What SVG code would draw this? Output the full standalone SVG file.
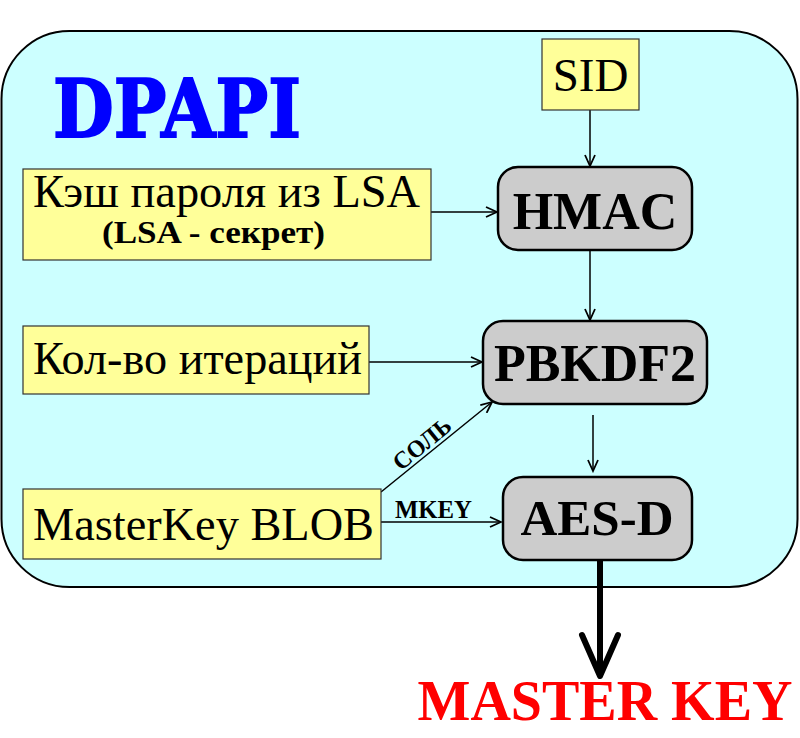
<svg xmlns="http://www.w3.org/2000/svg" width="800" height="738" viewBox="0 0 800 738">
<style>
.inp{fill:#FFFF99;stroke:#333;stroke-width:1.2}
.proc{fill:#CCCCCC;stroke:#000;stroke-width:2.5}
.t{font-family:"Liberation Serif","Times New Roman",serif;fill:#000}
.b{font-weight:bold}
.ln{stroke:#000;stroke-width:1.5;fill:none}
</style>
<defs>
<marker id="ah" markerWidth="14" markerHeight="12" refX="12" refY="6" orient="auto" markerUnits="userSpaceOnUse">
<path d="M1,1 L12,6 L1,11" fill="none" stroke="#000" stroke-width="1.8"/>
</marker>
</defs>
<rect x="1.5" y="31" width="796" height="556" rx="68" ry="68" fill="#CCFFFF" stroke="#000" stroke-width="2"/>
<text x="53" y="137" font-family="'DejaVu Serif','Liberation Serif',serif" font-weight="bold" font-size="80" fill="#0000FF" stroke="#0000FF" stroke-width="2" textLength="248" lengthAdjust="spacingAndGlyphs">DPAPI</text>

<g id="connectors">
<line class="ln" x1="590" y1="110" x2="590" y2="166" marker-end="url(#ah)"/>
<line class="ln" x1="431" y1="212" x2="497" y2="212" marker-end="url(#ah)"/>
<line class="ln" x1="590" y1="250" x2="590" y2="320" marker-end="url(#ah)"/>
<line class="ln" x1="369" y1="362" x2="482" y2="362" marker-end="url(#ah)"/>
<line class="ln" x1="593" y1="415" x2="593" y2="471" marker-end="url(#ah)"/>
<line class="ln" x1="381" y1="492" x2="492" y2="402" marker-end="url(#ah)"/>
<line class="ln" x1="381" y1="522" x2="501" y2="522" marker-end="url(#ah)"/>
<text class="t b" font-size="24" text-anchor="middle" textLength="68" lengthAdjust="spacingAndGlyphs" transform="translate(427,450) rotate(-39.3)">СОЛЬ</text>
<text class="t b" x="433.5" y="518" font-size="25" text-anchor="middle" textLength="77" lengthAdjust="spacingAndGlyphs">MKEY</text>
<path d="M600,560 L600,675" stroke="#000" stroke-width="6" fill="none"/>
<path d="M582,635 L600,676 L618,635" stroke="#000" stroke-width="6" fill="none" stroke-linecap="round" stroke-linejoin="round"/>
</g>

<g id="sid">
<rect class="inp" x="542" y="39" width="97" height="71"/>
<text class="t" x="590.5" y="91" font-size="47" text-anchor="middle">SID</text>
</g>
<g id="lsa">
<rect class="inp" x="23" y="169" width="408" height="91"/>
<text class="t" x="226.5" y="207" font-size="46" text-anchor="middle" textLength="387" lengthAdjust="spacingAndGlyphs">Кэш пароля из LSA</text>
<text class="t b" x="213.5" y="243" font-size="32" text-anchor="middle" textLength="223" lengthAdjust="spacingAndGlyphs">(LSA - секрет)</text>
</g>
<g id="iter">
<rect class="inp" x="23" y="326" width="346" height="68"/>
<text class="t" x="197.5" y="374" font-size="46" text-anchor="middle" textLength="329" lengthAdjust="spacingAndGlyphs">Кол-во итераций</text>
</g>
<g id="blob">
<rect class="inp" x="23" y="489" width="358" height="70"/>
<text class="t" x="203.5" y="540" font-size="46" text-anchor="middle" textLength="341" lengthAdjust="spacingAndGlyphs">MasterKey BLOB</text>
</g>
<g id="hmac">
<rect class="proc" x="498" y="167" width="194" height="83" rx="20" ry="20"/>
<text class="t b" x="595" y="229" font-size="52" text-anchor="middle">HMAC</text>
</g>
<g id="pbkdf2">
<rect class="proc" x="483" y="321" width="224" height="83" rx="20" ry="20"/>
<text class="t b" x="595" y="381" font-size="52" text-anchor="middle">PBKDF2</text>
</g>
<g id="aesd">
<rect class="proc" x="503" y="477" width="189" height="83" rx="20" ry="20"/>
<text class="t b" x="597" y="535" font-size="51" text-anchor="middle">AES-D</text>
</g>
<g id="masterkey">
<text class="t b" x="605" y="720" font-size="56" style="fill:#FF0000" text-anchor="middle">MASTER KEY</text>
</g>
</svg>
